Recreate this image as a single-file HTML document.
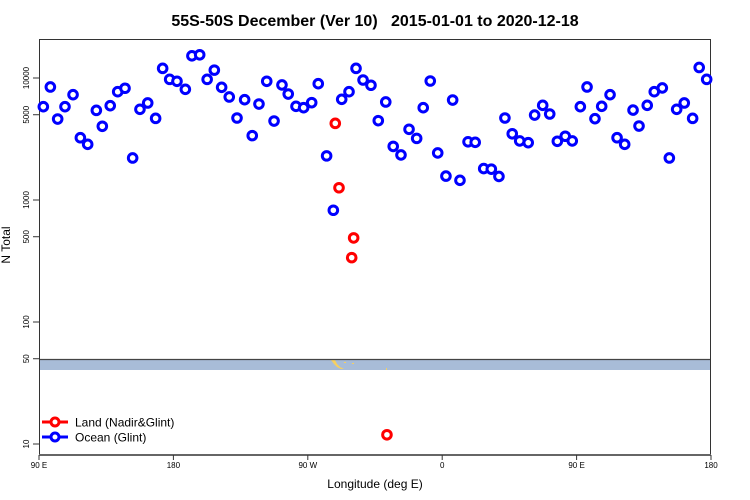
<!DOCTYPE html>
<html><head><meta charset="utf-8"><style>
body{margin:0;background:#fff;}
svg{display:block;font-family:"Liberation Sans",sans-serif;}
</style></head><body>
<svg id="chart" width="750" height="500" viewBox="0 0 750 500">
<text x="375" y="26" text-anchor="middle" font-size="16" font-weight="bold" style="white-space:pre" xml:space="preserve">55S-50S December (Ver 10)   2015-01-01 to 2020-12-18</text>
<rect x="39" y="360" width="672" height="10" fill="#a8bcd8"/>
<path d="M331,360 h4 l2,4 l3,3 l4,2 h-3 l-4,-2 l-3,-3 z M344,362 h2 v1 h-2 z M352,363 h2 v1 h-2z M386,368 h1 v2 h-1z" fill="#f6d060"/>
<line x1="39" y1="359.5" x2="711" y2="359.5" stroke="#444" stroke-width="1.2"/>
<rect x="39.5" y="39.5" width="671" height="415" fill="none" stroke="#333" stroke-width="1"/>
<line x1="39" y1="455" x2="711" y2="455" stroke="#666" stroke-width="2"/>
<g id="yticks"></g>
<g id="xticks"></g>
<text x="375" y="488" text-anchor="middle" font-size="12">Longitude (deg E)</text>
<text transform="translate(10,245) rotate(-90)" text-anchor="middle" font-size="12">N Total</text>
<g id="ocean"></g>
<g id="land"></g>
<g>
<g>
<line x1="42" y1="422" x2="68" y2="422" stroke="#f00" stroke-width="3"/>
<circle cx="55" cy="422" r="4" fill="#fff" stroke="#f00" stroke-width="3"/>
<text x="75" y="426.5" font-size="12">Land (Nadir&amp;Glint)</text></g>
<g>
<line x1="42" y1="437" x2="68" y2="437" stroke="#00f" stroke-width="3"/>
<circle cx="55" cy="437" r="4" fill="#fff" stroke="#00f" stroke-width="3"/>
<text x="75" y="441.5" font-size="12">Ocean (Glint)</text></g>
</g>
</svg>
<script>
const oceanLon=[92.9,97.6,102.5,107.4,112.8,117.7,122.6,128.4,132.4,137.7,142.7,147.6,152.7,157.6,162.8,168.1,172.8,177.5,182.4,188.0,192.4,197.6,202.6,207.4,212.3,217.4,222.6,227.7,232.8,237.3,242.5,247.4,252.7,256.9,262.1,267.2,272.6,277.0,282.6,287.1,292.7,297.6,302.3,307.0,312.3,317.2,322.2,327.2,332.4,337.8,342.9,347.3,352.0,357.0,362.5,367.0,371.9,377.3,382.1,387.8,392.9,398.0,402.0,406.9,411.9,417.6,421.9,427.3,432.0,437.1,442.4,447.1,452.5,457.0,462.3,466.8,472.4,477.1,482.2,487.8,491.8,497.3,502.0,507.4,512.1,517.0,522.1,527.7,532.1,537.1];
const oceanN=[5820,8440,4610,5820,7300,3240,2860,5430,4020,5930,7720,8240,2210,5540,6240,4670,12000,9750,9400,8080,15200,15500,9750,11600,8390,6990,4700,6640,3370,6120,9400,4440,8770,7390,5860,5710,6280,8980,2300,824,6690,7720,12000,9630,8720,4470,6360,2750,2340,3800,3200,5710,9450,2430,1570,6600,1450,3000,2970,1810,1790,1560,4700,3490,3050,2950,4970,5970,5070,3030,3330,3050,5820,8440,4640,5860,7300,3240,2860,5460,4040,5970,7720,8290,2210,5540,6240,4670,12200,9750];
const landLon=[288.4,290.9,300.7,299.4,323.0];
const landN=[4250,1260,489,337,11.9];
const yTickVals=[10,50,100,500,1000,5000,10000];
const xTickVals=[90,180,270,360,450,540];
const xTickLabels=["90 E","180","90 W","0","90 E","180"];
const NS="http://www.w3.org/2000/svg";
function xs(l){return 39+(l-90)*672/450;}
function ys(v){return 444-(Math.log10(v)-1)*122;}
const yt=document.getElementById('yticks');
yTickVals.forEach(v=>{
 const y=ys(v);
 const ln=document.createElementNS(NS,'line');
 ln.setAttribute('x1',33);ln.setAttribute('x2',39);ln.setAttribute('y1',y);ln.setAttribute('y2',y);ln.setAttribute('stroke','#333');
 
 
 yt.appendChild(ln);
 const t=document.createElementNS(NS,'text');
 t.setAttribute('transform','translate(29,'+y+') rotate(-90)');
 t.setAttribute('text-anchor','middle');t.setAttribute('font-size','8');
 t.textContent=v;
 
 
 yt.appendChild(t);
});
const xt=document.getElementById('xticks');
xTickVals.forEach((l,i)=>{
 const x=xs(l);
 const ln=document.createElementNS(NS,'line');
 ln.setAttribute('x1',x);ln.setAttribute('x2',x);ln.setAttribute('y1',455);ln.setAttribute('y2',460);ln.setAttribute('stroke','#333');
 
 
 xt.appendChild(ln);
 const t=document.createElementNS(NS,'text');
 t.setAttribute('x',x);t.setAttribute('y',468);
 t.setAttribute('text-anchor','middle');t.setAttribute('font-size','8');
 t.textContent=xTickLabels[i];
 
 
 xt.appendChild(t);
});
function pts(g,lon,n,col,name){
 lon.forEach((l,i)=>{
  const c=document.createElementNS(NS,'circle');
  c.setAttribute('cx',xs(l));c.setAttribute('cy',ys(n[i]));c.setAttribute('r',4.3);
  c.setAttribute('fill','#fff');c.setAttribute('stroke',col);c.setAttribute('stroke-width',3);
  
  
  g.appendChild(c);
 });
}
pts(document.getElementById('ocean'),oceanLon,oceanN,'#00f','ocean-point');
pts(document.getElementById('land'),landLon,landN,'#f00','land-point');
</script>
</body></html>
